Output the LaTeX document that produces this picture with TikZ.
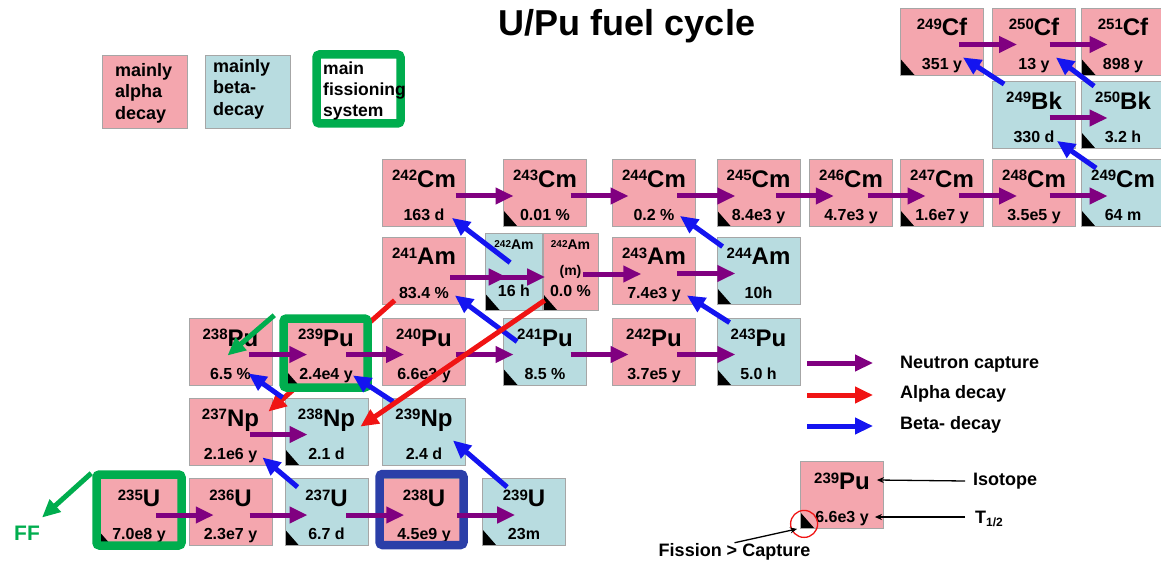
\documentclass[tikz,border=0pt]{standalone}
\usepackage{fontspec}
\setmainfont{Liberation Sans}
\usetikzlibrary{arrows.meta,calc}

\definecolor{alphapink}{HTML}{F4A6AE}
\definecolor{betablue}{HTML}{B8DCE0}
\definecolor{boxgray}{HTML}{A6A6A6}
\definecolor{capturepurple}{HTML}{800080}
\definecolor{alphared}{HTML}{F01414}
\definecolor{betadecblue}{HTML}{1414F0}
\definecolor{fisgreen}{HTML}{00AD4E}
\definecolor{frameblue}{HTML}{2B3FA8}

\newcommand{\nuc}[2]{\raisebox{6.5pt}{\fontsize{15}{15}\selectfont#1}#2}
\newcommand{\smallnuc}[2]{\raisebox{2.8pt}{\fontsize{10}{10}\selectfont#1}#2}

\tikzstyle{nuclide} = [rectangle, draw=boxgray, line width=0.8pt, minimum width=83pt, minimum height=67pt, inner sep=0pt, text height=18pt, text depth=29pt, font=\bfseries\fontsize{24}{24}\selectfont]
\tikzstyle{alpha} = [nuclide, fill=alphapink]
\tikzstyle{beta} = [nuclide, fill=betablue]
\tikzstyle{ambox} = [minimum width=57pt, minimum height=77pt, text height=10pt, text depth=53pt, font=\bfseries\fontsize{14}{14}\selectfont]
\tikzstyle{fis} = [path picture={\fill[black] (path picture bounding box.south west) -- ++(0pt,16pt) -- ++(14pt,-16pt) -- cycle;}]
\tikzstyle{halftext} = [anchor=base, yshift=6pt, inner sep=0pt, font=\bfseries\fontsize{16}{16}\selectfont]
\tikzset{half/.style={label={[halftext]south:#1}}}
\tikzstyle{mainfis} = [draw=fisgreen, line width=8.5pt, rounded corners=3pt, minimum width=85pt, minimum height=71pt, inner sep=0pt]
\tikzstyle{fertile} = [mainfis, draw=frameblue]
\tikzstyle{legbox} = [rectangle, draw=boxgray, line width=0.8pt, minimum width=85pt, minimum height=73pt]
\tikzstyle{legtext} = [inner sep=0pt, align=left, font=\bfseries\fontsize{18}{21.5}\selectfont]
\tikzstyle{title} = [inner sep=0pt, font=\bfseries\fontsize{36}{36}\selectfont]
\tikzstyle{capture} = [draw=capturepurple, line width=5pt, -{Triangle[length=18pt,width=16pt]}]
\tikzstyle{alphadec} = [capture, draw=alphared]
\tikzstyle{betadec} = [capture, draw=betadecblue]
\tikzstyle{fission} = [capture, draw=fisgreen]
\tikzstyle{pointer} = [draw=black, line width=1.3pt, -{Stealth[length=7pt,width=6pt]}]

\begin{document}
\begin{tikzpicture}[x=1pt, y=-1pt]
\useasboundingbox (0,0) rectangle (1161,561);
%titel
\node[title] (title) at (627,26.5) {U/Pu fuel cycle};
%begin legend-colours
\node[legbox, fill=alphapink] (legalpha) at (144.5,91.5) {};
\node[legtext, anchor=north west] (legalpha-t) at (115,63) {mainly\\alpha\\decay};
\node[legbox, fill=betablue] (legbeta) at (247.5,91.5) {};
\node[legtext, anchor=north west] (legbeta-t) at (213,59) {mainly\\beta-\\decay};
\node[mainfis, fill=white, minimum width=84pt, minimum height=69pt] (legfis) at (358.5,89) {};
\node[legtext, anchor=north west, font=\bfseries\fontsize{17.5}{21}\selectfont] (legfis-t) at (323,62) {main\\fissioning\\system};
%end legend-colours
%begin row-Cf
\node[alpha, fis, half=351 y] (cf249) at (942,41.5) {\nuc{249}{Cf}};
\node[alpha, half=13 y] (cf250) at (1034,41.5) {\nuc{250}{Cf}};
\node[alpha, fis, half=898 y] (cf251) at (1123,41.5) {\nuc{251}{Cf}};
%begin row-Bk
\node[beta, half=330 d] (bk249) at (1034,115) {\nuc{249}{Bk}};
\node[beta, fis, half=3.2 h] (bk250) at (1123,115) {\nuc{250}{Bk}};
%begin row-Cm
\node[alpha, half=163 d] (cm242) at (424,193) {\nuc{242}{Cm}};
\node[alpha, fis, half=0.01 \%] (cm243) at (545,193) {\nuc{243}{Cm}};
\node[alpha, half=0.2 \%] (cm244) at (654,193) {\nuc{244}{Cm}};
\node[alpha, fis, half=8.4e3 y] (cm245) at (758.5,193) {\nuc{245}{Cm}};
\node[alpha, half=4.7e3 y] (cm246) at (851,193) {\nuc{246}{Cm}};
\node[alpha, fis, half=1.6e7 y] (cm247) at (942,193) {\nuc{247}{Cm}};
\node[alpha, half=3.5e5 y] (cm248) at (1034,193) {\nuc{248}{Cm}};
\node[beta, fis, half=64 m] (cm249) at (1123,193) {\nuc{249}{Cm}};
%begin row-Am
\node[alpha, half=83.4 \%] (am241) at (424,270.5) {\nuc{241}{Am}};
\node[beta, ambox, fis, label={[halftext, yshift=8pt]south:16 h}] (am242) at (514,271.5) {\smallnuc{242}{Am}};
\node[alpha, ambox, minimum width=55pt, fis, label={[halftext, yshift=8pt]south:0.0 \%}] (am242m) at (570.5,271.5) {\smallnuc{242}{Am}};
\node[inner sep=0pt, font=\bfseries\fontsize{14}{14}\selectfont] (am242m-x) at (am242m) {(m)};
\node[alpha, half=7.4e3 y] (am243) at (654,270.5) {\nuc{243}{Am}};
\node[beta, fis, half=10h] (am244) at (758.5,270.5) {\nuc{244}{Am}};
%begin row-Pu
\node[alpha, half=6.5 \%] (pu238) at (230.5,351.5) {\nuc{238}{Pu}};
\node[alpha, half=6.6e3 y] (pu240) at (424,351.5) {\nuc{240}{Pu}};
\node[beta, fis, half=8.5 \%] (pu241) at (545,351.5) {\nuc{241}{Pu}};
\node[alpha, half=3.7e5 y] (pu242) at (654,351.5) {\nuc{242}{Pu}};
\node[beta, fis, half=5.0 h] (pu243) at (758.5,351.5) {\nuc{243}{Pu}};
%begin row-Np
\node[alpha, half=2.1e6 y] (np237) at (230.5,431.5) {\nuc{237}{Np}};
\node[beta, fis, half=2.1 d] (np238) at (326.5,431.5) {\nuc{238}{Np}};
\node[beta, half=2.4 d] (np239) at (424,431.5) {\nuc{239}{Np}};
%begin row-U
\node[alpha, fis, half=7.0e8 y] (u235) at (139,512) {\nuc{235}{U}};
\node[alpha, half=2.3e7 y] (u236) at (230.5,512) {\nuc{236}{U}};
\node[beta, fis, half=6.7 d] (u237) at (326.5,512) {\nuc{237}{U}};
\node[alpha, half=4.5e9 y] (u238) at (424,512) {\nuc{238}{U}};
\node[beta, fis, half=23m] (u239) at (524,512) {\nuc{239}{U}};
%end rows
%alpha 241Am goes behind 239Pu
\draw[alphadec] ([xshift=12.5pt,yshift=4pt]am241.south west) -- ([xshift=-4pt,yshift=-14pt]np237.north east);
\node[alpha, fis, half=2.4e4 y] (pu239) at (326,351.5) {\nuc{239}{Pu}};
%begin frames
\node[mainfis, minimum width=84pt, minimum height=69pt] (pu239f) at (325.5,353) {};
\node[mainfis] (u235f) at (139,510) {};
\node[fertile, minimum width=84pt] (u238f) at (421.5,509.5) {};
\node[inner sep=0pt, text=fisgreen, font=\bfseries\fontsize{21}{21}\selectfont] (ff) at (27,533) {FF};
%end frames
%begin neutron capture
\foreach \from/\to in {cf249/cf250, cf250/cf251, bk249/bk250, cm242/cm243, cm243/cm244, cm244/cm245, cm245/cm246, cm246/cm247, cm247/cm248, cm248/cm249, am242m/am243, am243/am244, pu238/pu239, pu239/pu240, pu240/pu241, pu241/pu242, pu242/pu243, np237/np238, u235/u236, u236/u237, u237/u238}
    \draw[capture] ($(\from)!.5!(\to)+(-29,3)$) -- ($(\from)!.5!(\to)+(29,3)$);
\draw[capture] ([xshift=-9pt,yshift=-3pt]u238.east) -- ([xshift=33pt,yshift=-3pt]u239.west);
\draw[capture] ([xshift=-15.5pt,yshift=-6.5pt]am241.east) -- ([xshift=2.5pt,yshift=-5.5pt]am242m.west);
\draw[capture] ([xshift=-15.5pt,yshift=-6.5pt]am241.east) -- ([xshift=21.5pt,yshift=-5.5pt]am242.west);
%end neutron capture
%begin beta decay
\draw[betadec] ([xshift=25pt,yshift=-9pt]u239.north west) -- ([xshift=-13pt,yshift=25pt]np239.south east);
\draw[betadec] ([xshift=13pt,yshift=-9pt]u237.north west) -- ([xshift=-10pt,yshift=8pt]np237.south east);
\draw[betadec] ([xshift=11pt,yshift=-4pt]np239.north west) -- ([xshift=-15pt,yshift=10pt]pu239.south east);
\draw[betadec] ([xshift=-2pt]np238.north west) -- ([xshift=-24pt,yshift=12pt]pu238.south east);
\draw[betadec] ([xshift=14pt,yshift=-24pt]pu241.north west) -- ([xshift=-11pt,yshift=9pt]am241.south east);
\draw[betadec] ([xshift=25pt,yshift=-30pt]am242.north west) -- ([xshift=-14pt,yshift=9pt]cm242.south east);
\draw[betadec] ([xshift=13pt,yshift=-5pt]pu243.north west) -- ([xshift=-9pt,yshift=9pt]am243.south east);
\draw[betadec] ([xshift=6pt,yshift=-10pt]am244.north west) -- ([xshift=-16pt,yshift=11pt]cm244.south east);
\draw[betadec] ([xshift=15pt,yshift=-9pt]cm249.north west) -- ([xshift=-19pt,yshift=8pt]bk249.south east);
\draw[betadec] ([xshift=12pt,yshift=-3pt]bk249.north west) -- ([xshift=-21pt,yshift=18pt]cf249.south east);
\draw[betadec] ([xshift=13pt,yshift=-5pt]bk250.north west) -- ([xshift=-20pt,yshift=18pt]cf250.south east);
%end beta decay
%begin alpha decay and fission
\draw[alphadec] ([xshift=2pt,yshift=10pt]am242m.south west) -- ([xshift=-8pt,yshift=-29pt]np238.north east);
\draw[fission] ([xshift=-1pt,yshift=-3pt]u235f.north west) -- ([xshift=2pt,yshift=8pt]ff.north east);
\draw[fission] ([xshift=-5pt,yshift=-1pt]pu239f.north west) -- ([xshift=-3pt,yshift=-4pt]pu238.center);
%end alpha decay and fission
%begin legend-arrows
\coordinate (legcap-s) at (807,363);
\coordinate (legcap-e) at (873,363);
\coordinate (legalp-s) at (807,395);
\coordinate (legalp-e) at (873,395);
\coordinate (legbet-s) at (807,426);
\coordinate (legbet-e) at (873,426);
\draw[capture] (legcap-s) -- (legcap-e);
\draw[alphadec] (legalp-s) -- (legalp-e);
\draw[betadec] (legbet-s) -- (legbet-e);
\node[legtext, anchor=base west] (legcap) at (900,368) {Neutron capture};
\node[legtext, anchor=base west] (legalp) at (900,398) {Alpha decay};
\node[legtext, anchor=base west] (legbet) at (900,429) {Beta- decay};
%end legend-arrows
%begin legend-box
\node[alpha, fis, half=6.6e3 y] (legpu) at (842,495) {\nuc{239}{Pu}};
\node[legtext, anchor=west] (legiso) at (973,481) {Isotope};
\node[legtext, anchor=base west] (legthalf) at (975,523) {T\raisebox{-3.5pt}{\fontsize{12}{12}\selectfont 1/2}};
\node[legtext, anchor=base] (legfc) at (734.5,556) {Fission > Capture};
\node[circle, draw=alphared, line width=1.3pt, minimum size=27pt, inner sep=0pt] (fcirc) at ([xshift=4pt,yshift=5pt]legpu.south west) {};
\draw[pointer] ([xshift=-8pt]legiso.west) -- ([xshift=-7pt,yshift=15pt]legpu.east);
\draw[pointer] ([xshift=-10pt,yshift=6pt]legthalf.base west) -- ([xshift=-9pt,yshift=-22pt]legpu.east);
\draw[pointer] (legfc.north) -- ([xshift=-7pt,yshift=-5pt]fcirc.center);
%end legend-box
\end{tikzpicture}
\end{document}
